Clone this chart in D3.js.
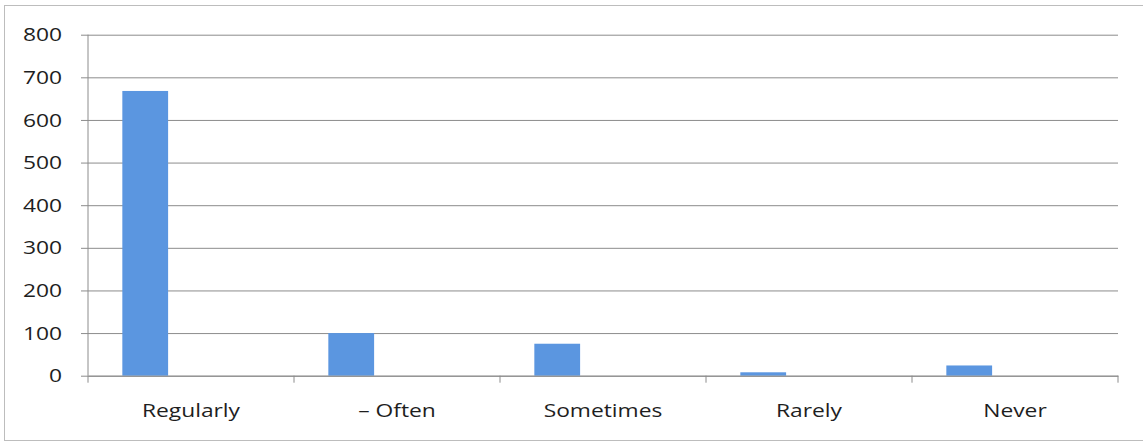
<!DOCTYPE html>
<html>
<head>
<meta charset="utf-8">
<script src="https://cdn.jsdelivr.net/npm/d3@7"></script>
<style>
  body { margin: 0; background: #fff; }
  text { font-family: "Open Sans", Lato, sans-serif; fill: #1e1e1e; }
</style>
</head>
<body>
<svg width="1143" height="443"></svg>
<script>
// chart data
const categories = ["Regularly", "\u2013 Often", "Sometimes", "Rarely", "Never"];
const values = [668, 100, 75, 8, 24];
const yTicks = [0, 100, 200, 300, 400, 500, 600, 700, 800];
// Excel-style clustered layout: 3 series slots, only the first has data
const slots = ["s1", "s2", "s3"];

let svg = d3.select("svg"),
  width = +svg.attr("width"),
  height = +svg.attr("height");

let margin = { left: 88, right: 25, top: 34.7, bottom: 67.3 };
let stretch = 1.2; // the scanned text looks wider than normal

// outer frame
svg.append("rect")
  .attr("x", 4.5).attr("y", 5.5)
  .attr("width", 1140).attr("height", 435)
  .attr("fill", "none")
  .attr("stroke", "#bdbdbd");

let x = d3.scaleBand()
  .domain(categories)
  .range([margin.left, width - margin.right])
  .paddingInner(0).paddingOuter(0);

let xs = d3.scaleBand()
  .domain(slots)
  .range([0, x.bandwidth()])
  .paddingOuter(0.75) // gap width 150% split on both sides
  .paddingInner(0);

let y = d3.scaleLinear()
  .domain([0, 800])
  .range([height - margin.bottom, margin.top]);

// gridlines + y labels
let yAxis = svg.append("g")
  .attr("transform", "translate(" + margin.left + ",0)")
  .call(d3.axisLeft(y)
    .tickValues(yTicks)
    .tickSize(-(width - margin.left - margin.right))
    .tickSizeOuter(0)
    .tickPadding(0));
yAxis.select(".domain").remove();
yAxis.selectAll(".tick line")
  .attr("x1", -7)
  .attr("stroke", "#8c8c8c");
yAxis.selectAll(".tick text")
  .attr("x", -26 / stretch)
  .attr("transform", "scale(" + stretch + ",1)")
  .attr("font-size", "19px")
  .attr("fill", "#1e1e1e");

// left axis line
svg.append("line")
  .attr("x1", margin.left).attr("x2", margin.left)
  .attr("y1", y(800)).attr("y2", y(0))
  .attr("stroke", "#8c8c8c");

// bars
svg.append("g")
  .selectAll("rect")
  .data(values)
  .enter()
  .append("rect")
  .attr("x", function (d, i) { return x(categories[i]) + xs("s1"); })
  .attr("width", xs.bandwidth())
  .attr("y", function (d) { return y(d); })
  .attr("height", function (d) { return y(0) - y(d); })
  .attr("fill", "#5b96e0");

// x axis
let xAxis = svg.append("g")
  .attr("transform", "translate(0," + y(0) + ")")
  .call(d3.axisBottom(x).tickSize(0).tickPadding(0).tickSizeOuter(0));
xAxis.select(".domain").attr("stroke", "#8c8c8c");
xAxis.selectAll(".tick line").remove();
xAxis.selectAll(".tick text")
  .attr("y", 41)
  .attr("dy", "0")
  .attr("transform", "scale(" + stretch + ",1)")
  .attr("font-size", "19px")
  .attr("fill", "#1e1e1e");

// category boundary ticks
let bounds = categories.map(function (c) { return x(c); }).concat([x.range()[1]]);
xAxis.selectAll(".bound")
  .data(bounds)
  .enter()
  .append("line")
  .attr("class", "bound")
  .attr("x1", function (d) { return d; })
  .attr("x2", function (d) { return d; })
  .attr("y1", 0).attr("y2", 7)
  .attr("stroke", "#8c8c8c");
</script>
</body>
</html>
